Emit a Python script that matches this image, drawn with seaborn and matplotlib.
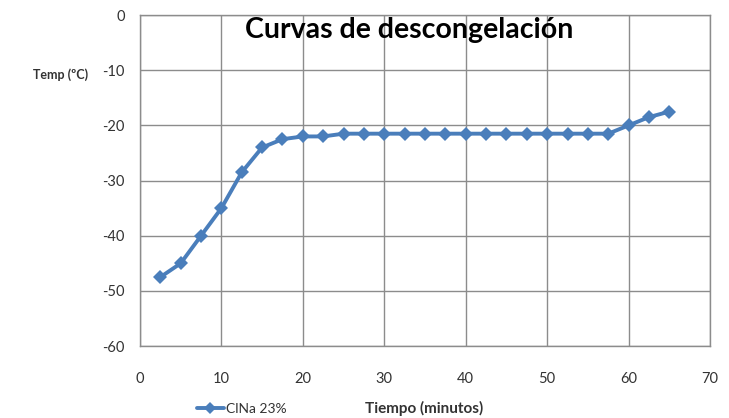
import matplotlib
matplotlib.use("Agg")
import matplotlib.pyplot as plt
import seaborn as sns
import pandas as pd

tiempo = [2.5, 5, 7.5, 10, 12.5, 15, 17.5, 20, 22.5, 25, 27.5, 30, 32.5, 35, 37.5,
          40, 42.5, 45, 47.5, 50, 52.5, 55, 57.5, 60, 62.5, 65]
temp = [-47.5, -45, -40, -35, -28.5, -24, -22.5, -22, -22, -21.5, -21.5, -21.5, -21.5,
        -21.5, -21.5, -21.5, -21.5, -21.5, -21.5, -21.5, -21.5, -21.5, -21.5,
        -20, -18.5, -17.5]
serie = "ClNa 23%"
x_ticks = [0, 10, 20, 30, 40, 50, 60, 70]
y_ticks = [0, -10, -20, -30, -40, -50, -60]

df = pd.DataFrame({"Tiempo": tiempo, "Temp": temp, "Serie": serie})

sns.set_style("white")
plt.rcParams["font.family"] = ["Lato", "DejaVu Sans"]
plt.rcParams["axes.unicode_minus"] = False

fig = plt.figure(figsize=(7.29, 4.18), dpi=100)
ax = fig.add_axes([0.192, 0.172, 0.782, 0.792])

sns.lineplot(data=df, x="Tiempo", y="Temp", hue="Serie", palette=["#4A7EBB"],
             marker="D", markersize=7, markeredgewidth=0, linewidth=2.8,
             ax=ax, legend=False)

ax.set_xlim(0, 70)
ax.set_ylim(-60, 0)
ax.set_xticks(x_ticks)
ax.set_yticks(y_ticks)
ax.grid(True, color="#8c8c8c", linewidth=1.0)
ax.set_axisbelow(True)
for s in ax.spines.values():
    s.set_color("#8c8c8c")
    s.set_linewidth(1.0)
ax.tick_params(axis="both", length=5, width=1, color="#8c8c8c", labelsize=10.5,
               labelcolor="#333333", direction="out")
ax.tick_params(axis="x", pad=14)
ax.tick_params(axis="y", pad=6)
ax.set_xlabel("")
ax.set_ylabel("")

ax.text(0.472, 0.955, "Curvas de descongelación", transform=ax.transAxes,
        ha="center", va="center", fontsize=20.5, fontweight="bold", color="black")
fig.text(0.083, 0.822, "Temp (ºC)", ha="center", va="center", fontsize=9,
         fontweight="bold", color="#333333")
fig.text(0.582, 0.022, "Tiempo (minutos)", ha="center", va="center", fontsize=11,
         fontweight="bold", color="#333333")

# legend
from matplotlib.lines import Line2D
h = Line2D([0], [0], color="#4A7EBB", marker="D", markersize=6, linewidth=2.8,
           markeredgewidth=0)
leg = fig.legend([h], [serie], loc="center left", bbox_to_anchor=(0.262, 0.022),
                 frameon=False, fontsize=10, handlelength=2.0, handletextpad=0.1,
                 borderaxespad=0)
for t in leg.get_texts():
    t.set_color("#333333")

fig.savefig("out.png", dpi=100)
